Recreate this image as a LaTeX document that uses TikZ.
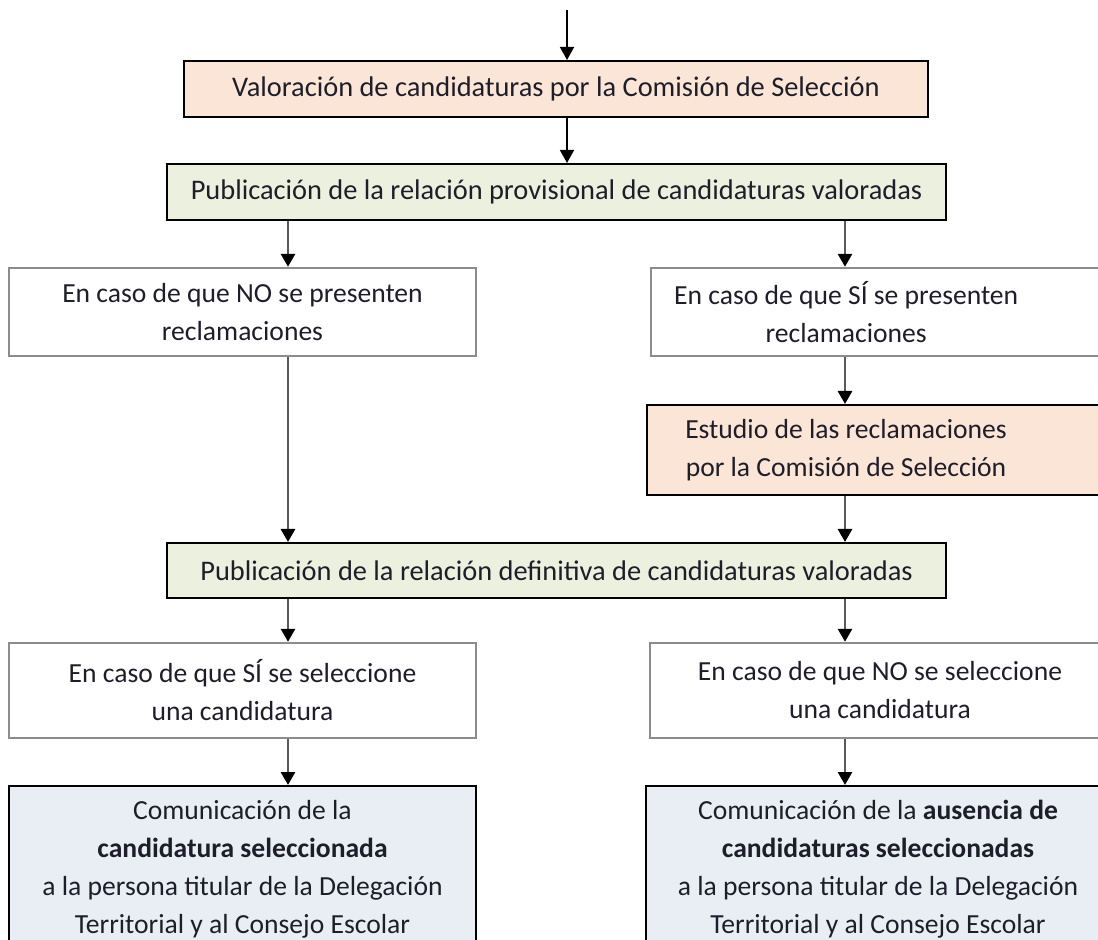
\documentclass[tikz,border=0pt]{standalone}
\usepackage{fontspec}
\setmainfont{Carlito}
\usepackage{tikz}
\usetikzlibrary{arrows.meta}

\definecolor{orangefill}{HTML}{FBE5D6}
\definecolor{greenfill}{HTML}{EBF1DE}
\definecolor{bluefill}{HTML}{E9EEF5}
\definecolor{boxgray}{HTML}{8C8C8C}
\definecolor{linegray}{HTML}{5A5A5A}
\definecolor{inkdark}{HTML}{1E1E2A}

\newcommand{\padright}[3]{\parbox{#1}{\centering #3}\hspace*{#2}}

\tikzset{
  box/.style={rectangle, align=center, inner sep=0pt, text=inkdark,
    font=\fontsize{13.8}{19}\selectfont},
  wide/.style={font=\fontsize{14.2}{19}\selectfont},
  orangebox/.style={box, draw=black, line width=1pt, fill=orangefill},
  greenbox/.style={box, draw=black, line width=1pt, fill=greenfill},
  bluebox/.style={box, draw=black, line width=1pt, fill=bluefill},
  whitebox/.style={box, draw=boxgray, line width=1.2pt, fill=white},
  flow/.style={draw=linegray, line width=1.4pt,
    -{Triangle[width=7pt,length=6.5pt,color=black]}},
  topflow/.style={flow, draw=black, line width=0.8pt}
}

\begin{document}
\begin{tikzpicture}[x=0.5pt, y=-0.5pt]
  \useasboundingbox (0,0) rectangle (1098,940);
  \clip (0,0) rectangle (1098,940);

  \coordinate (entry) at (567,10);
  \coordinate (colL) at (288,0);
  \coordinate (colR) at (845,0);

  \node[orangebox, wide, minimum width=372pt, minimum height=28pt] (valor) at (556,89)
    {Valoración de candidaturas por la Comisión de Selección};
  \node[greenbox, wide, minimum width=389.5pt, minimum height=28pt] (pubprov) at (556.5,192)
    {Publicación de la relación provisional de candidaturas valoradas};

  \node[whitebox, minimum width=233.5pt, minimum height=44pt] (noreclam) at (242.5,312)
    {En caso de que NO se presenten\\reclamaciones};
  \node[whitebox, minimum height=44pt, anchor=west] (sireclam) at (650,312)
    {\padright{195pt}{40pt}{En caso de que SÍ se presenten\\reclamaciones}};
  \node[orangebox, minimum height=45pt, anchor=west] (estudio) at (646,450)
    {\padright{199pt}{40pt}{Estudio de las reclamaciones\\por la Comisión de Selección}};

  \node[greenbox, wide, minimum width=389.5pt, minimum height=27.5pt] (pubdef) at (556.5,570.5)
    {Publicación de la relación definitiva de candidaturas valoradas};

  \node[whitebox, minimum width=233.5pt, minimum height=47.5pt] (siselec) at (242.5,690.5)
    {En caso de que SÍ se seleccione\\una candidatura};
  \node[whitebox, minimum width=230pt, minimum height=47.5pt] (noselec) at (880,690.5)
    {En caso de que NO se seleccione\\una candidatura};

  \node[bluebox, minimum width=233.5pt, minimum height=83pt] (comsel) at (242.5,869)
    {Comunicación de la\\\textbf{candidatura seleccionada}\\a la persona titular de la Delegación\\Territorial y al Consejo Escolar};
  \node[bluebox, minimum width=232pt, minimum height=83pt] (comaus) at (878,869)
    {Comunicación de la \textbf{ausencia de}\\\textbf{candidaturas seleccionadas}\\a la persona titular de la Delegación\\Territorial y al Consejo Escolar};

  % connectors
  \draw[topflow] (entry) -- (entry |- valor.north);
  \draw[topflow] (valor.south -| entry) -- (pubprov.north -| entry);
  \draw[flow] (pubprov.south -| colL) -- (noreclam.north -| colL);
  \draw[flow] (pubprov.south -| colR) -- (sireclam.north -| colR);
  \draw[flow] (noreclam.south -| colL) -- (pubdef.north -| colL);
  \draw[flow] (sireclam.south -| colR) -- (estudio.north -| colR);
  \draw[flow] (estudio.south -| colR) -- (pubdef.north -| colR);
  \draw[flow] (pubdef.south -| colL) -- (siselec.north -| colL);
  \draw[flow] (pubdef.south -| colR) -- (noselec.north -| colR);
  \draw[flow] (siselec.south -| colL) -- (comsel.north -| colL);
  \draw[flow] (noselec.south -| colR) -- (comaus.north -| colR);
\end{tikzpicture}
\end{document}
